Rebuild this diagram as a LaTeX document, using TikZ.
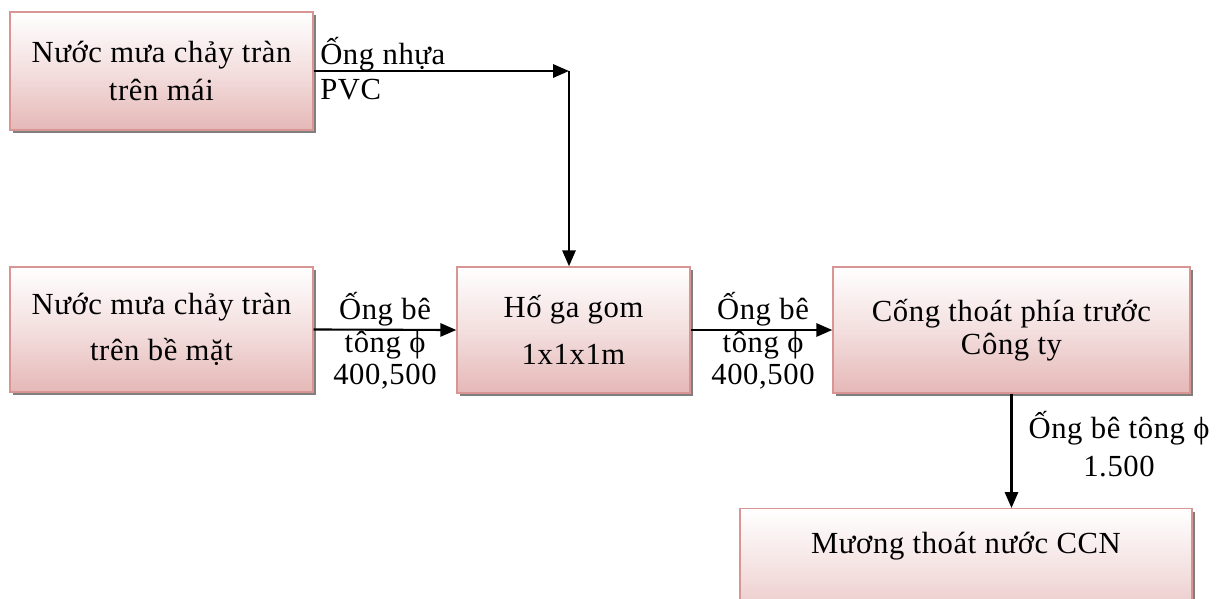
\documentclass[tikz,border=0pt]{standalone}
\usepackage{fontspec}
\setmainfont{Liberation Serif}[LetterSpace=2]
\usetikzlibrary{arrows.meta,shadows}
\definecolor{boxbot}{HTML}{E5B8B7}
\definecolor{boxline}{HTML}{D99594}
\definecolor{shad}{HTML}{7F7F7F}
\tikzset{
  flowbox/.style={draw=boxline, line width=1.1pt, top color=white, bottom color=boxbot,
    middle color=boxbot!45, align=center, inner sep=0pt,
    general shadow={shadow xshift=2.4pt, shadow yshift=-2.4pt, fill=shad},
    font=\fontsize{23}{28.5}\selectfont},
  lbl/.style={align=center, inner sep=0pt, font=\fontsize{23}{25}\selectfont},
  arr/.style={line width=1.6pt, -{Triangle[length=12pt,width=10pt]}}
}
\begin{document}
\begin{tikzpicture}[x=0.75pt,y=-0.75pt]
\useasboundingbox (0,0) rectangle (1223,599);
\clip (0,0) rectangle (1223,599);
\node[flowbox, minimum width=227.25pt, minimum height=88.5pt] (b1) at (161.5,71)
  {Nước mưa chảy tràn\\trên mái};
\node[flowbox, minimum width=227.25pt, minimum height=93.75pt, font=\fontsize{23}{35}\selectfont] (b2) at (161.5,329.5)
  {Nước mưa chảy tràn\\trên bề mặt};
\node[flowbox, minimum width=174.75pt, minimum height=94.5pt, font=\fontsize{23}{35}\selectfont] (b3) at (573.5,330)
  {Hố ga gom\\1x1x1m};
\node[flowbox, minimum width=267.75pt, minimum height=94.5pt, font=\fontsize{23}{24.5}\selectfont] (b4) at (1011.5,330)
  {Cống thoát phía trước\\Công ty};
\node[flowbox, minimum width=339pt, anchor=north, text height=33.75pt, text depth=65pt] (b5) at (966,508)
  {Mương thoát nước CCN};
\coordinate (c1) at (569,71);
\draw[arr] (b1.east) -- (c1);
\draw[arr] (c1) -- (b3.north -| c1);
\draw[arr] (b2.east) -- (b3.west);
\draw[arr] (b3.east) -- (b4.west);
\draw[arr] (b4.south) -- (b5.north -| b4.south);
\node[lbl, align=left, anchor=west, font=\fontsize{23}{26.25}\selectfont] (l1) at (320,69) {Ống nhựa\\PVC};
\node[lbl, font=\fontsize{23}{24.4}\selectfont] (l2) at (385,341) {Ống bê\\tông ϕ\\400,500};
\node[lbl, font=\fontsize{23}{24.4}\selectfont] (l3) at (763,341) {Ống bê\\tông ϕ\\400,500};
\node[lbl, font=\fontsize{23}{29}\selectfont] (l4) at (1119,444) {Ống bê tông ϕ\\1.500};
\end{tikzpicture}
\end{document}
